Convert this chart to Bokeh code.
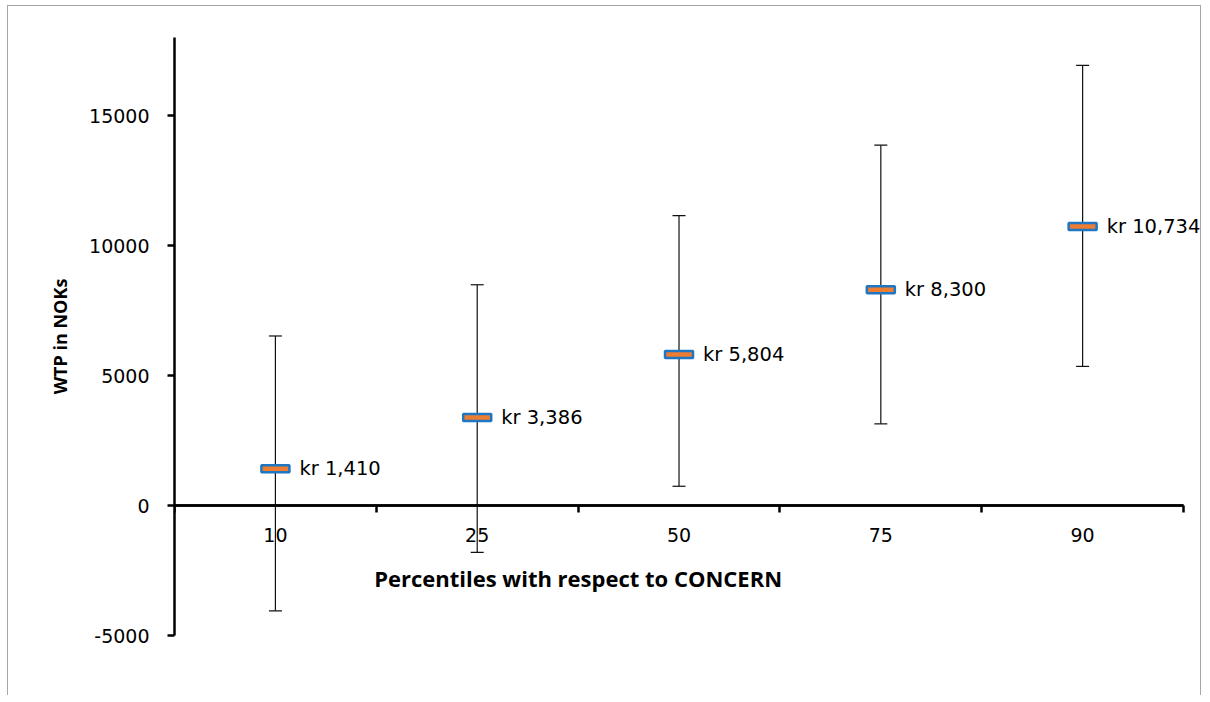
from bokeh.plotting import figure
from bokeh.models import (ColumnDataSource, Range1d, LinearAxis,
                          FixedTicker, Whisker, TeeHead, LabelSet, Label)
from bokeh.core.properties import value
from bokeh.embed import file_html
from bokeh.resources import INLINE

categories = ["10", "25", "50", "75", "90"]
wtp = [1410, 3386, 5804, 8300, 10734]
upper = [6520, 8490, 11150, 13860, 16930]
lower = [-4050, -1800, 740, 3140, 5350]
labels = ["kr 1,410", "kr 3,386", "kr 5,804", "kr 8,300", "kr 10,734"]
y_ticks = [-5000, 0, 5000, 10000, 15000]
y_tick_text = ["-5000", "0", "5000", "10000", "15000"]

NUM_FONT = "DejaVu Sans"
TITLE_FONT = "Open Sans"

n = len(categories)
xpos = [i + 0.5 for i in range(n)]          # category centres on a 0..n axis
bounds = list(range(n + 1))                 # category boundaries (Excel-style ticks)

src = ColumnDataSource(dict(x=xpos, cat=categories, wtp=wtp, upper=upper, lower=lower, label=labels))

p = figure(x_range=Range1d(0, n + 0.094), y_range=Range1d(-5000, 18000),
           width=1194, height=690, output_backend="svg", toolbar_location=None,
           min_border_left=166, min_border_right=0, min_border_top=31, min_border_bottom=61,
           styles={"border-top": "1px solid #A6A6A6", "border-left": "1px solid #A6A6A6",
                   "border-right": "1px solid #A6A6A6", "margin-left": "7px", "margin-top": "5px"})
p.xgrid.visible = False
p.ygrid.visible = False
p.outline_line_color = None

# y axis
ya = p.yaxis[0]
ya.ticker = FixedTicker(ticks=y_ticks)
ya.major_label_overrides = {t: s for t, s in zip(y_ticks, y_tick_text)}
ya.axis_label = "WTP in NOKs"
ya.axis_label_text_font = TITLE_FONT
ya.axis_label_text_font_style = "bold"
ya.axis_label_text_font_size = "18px"
ya.axis_label_text_color = "black"
ya.axis_label_standoff = 14
ya.major_label_text_font = NUM_FONT
ya.major_label_text_font_size = "19px"
ya.major_label_text_color = "#000000"
ya.major_label_standoff = 18
ya.axis_line_width = 2.5
ya.axis_line_color = "black"
ya.major_tick_line_width = 2.5
ya.major_tick_out = 7
ya.major_tick_in = 0
ya.minor_tick_out = 0
ya.minor_tick_in = 0

# x axis (category labels) placed at y = 0
xa = p.xaxis[0]
xa.fixed_location = 0
xa.bounds = (0, n)
xa.ticker = FixedTicker(ticks=xpos)
xa.major_label_overrides = {x: c for x, c in zip(xpos, categories)}
xa.major_label_text_font = NUM_FONT
xa.major_label_text_font_size = "19px"
xa.major_label_text_color = "#000000"
xa.major_label_standoff = 22
xa.axis_line_width = 2.5
xa.axis_line_color = "black"
xa.major_tick_out = 0
xa.major_tick_in = 0
xa.minor_tick_out = 0
xa.minor_tick_in = 0

# boundary ticks between categories
ba = LinearAxis(ticker=FixedTicker(ticks=bounds), bounds=(0, n),
                fixed_location=0, major_label_text_font_size="0px", major_label_text_alpha=0,
                axis_line_width=2.5, axis_line_color="black",
                major_tick_line_width=2.5, major_tick_out=7, major_tick_in=0,
                minor_tick_out=0, minor_tick_in=0, major_label_standoff=0)
p.add_layout(ba, "below")

# x axis title (placed like the original, left of the axis centre)
xt = Label(x=2, y=-2800, text="Percentiles with respect to CONCERN", text_align="center",
           text_baseline="middle", text_font=TITLE_FONT, text_font_style="bold",
           text_font_size="22px", text_color="black")
p.add_layout(xt)

# error bars
wh = Whisker(source=src, base="x", upper="upper", lower="lower", dimension="height",
             line_color="#111111", line_width=1.2,
             upper_head=TeeHead(size=13, line_color="#111111", line_width=1.2),
             lower_head=TeeHead(size=13, line_color="#111111", line_width=1.2))
p.add_layout(wh)

# markers (short horizontal bars)
p.rect(x="x", y="wtp", width=28, height=7, width_units="screen", height_units="screen",
       fill_color="#ED7D31", line_color="#1F77C4", line_width=2.5, source=src)

# data labels
ls = LabelSet(x="x", y="wtp", text="label", source=src, x_offset=24, y_offset=0,
              text_baseline="middle", text_align="left", text_font=value(NUM_FONT),
              text_font_size="19.5px", text_color="black")
p.add_layout(ls)

open("out.html", "w").write(file_html(p, INLINE))
